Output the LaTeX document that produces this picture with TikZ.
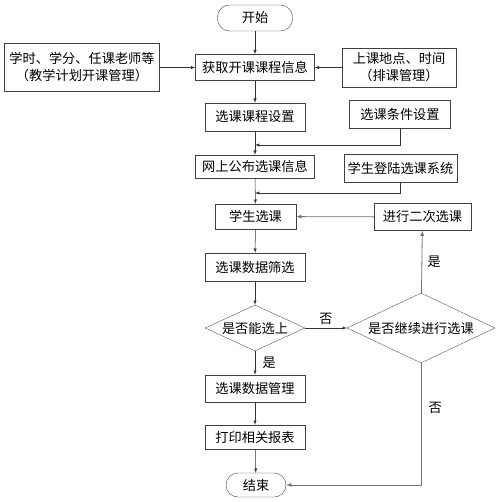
\documentclass[tikz,border=0pt]{standalone}
\usepackage{fontspec}
\setmainfont{Noto Sans CJK SC}
\usetikzlibrary{shapes.geometric}

\begin{document}
\begin{tikzpicture}[x=1pt,y=-1pt,font=\fontsize{13.2pt}{17pt}\selectfont,
    box/.style={draw=black!75,inner sep=0pt,align=center},
    term/.style={box,rounded corners=12pt},
    ask/.style={draw=black!65,diamond,inner sep=0pt,aspect=2.1},
    move/.style={->,>=latex,draw=black!80,line width=0.5pt},
    back/.style={->,>=latex,draw=black!55,line width=0.8pt}]

    \fill[white] (0,0) rectangle (500,502);
    \useasboundingbox (0,0) rectangle (500,502);

    \node[term,minimum width=75,minimum height=26] (start) at (255,18) {开始};
    \node[box,minimum width=119,minimum height=26] (getinfo) at (255,67.5) {获取开课课程信息};
    \node[box,minimum width=155,minimum height=48] (plan) at (82,67.5) {学时、学分、任课老师等\\（教学计划开课管理）};
    \node[box,minimum width=114,minimum height=39] (room) at (399,67.5) {上课地点、时间\\（排课管理）};
    \node[box,minimum width=100,minimum height=28] (setup) at (255,117) {选课课程设置};
    \node[box,minimum width=101,minimum height=28] (cond) at (400,114) {选课条件设置};
    \node[box,minimum width=119,minimum height=23] (publish) at (255,166.5) {网上公布选课信息};
    \node[box,minimum width=113,minimum height=28] (login) at (400.5,168) {学生登陆选课系统};
    \node[box,minimum width=81,minimum height=25] (choose) at (255.5,216.5) {学生选课};
    \node[box,minimum width=97,minimum height=27] (again) at (422.5,217) {进行二次选课};
    \node[box,minimum width=100,minimum height=28] (filter) at (255,267) {选课数据筛选};
    \node[ask,minimum width=100,minimum height=46] (canq) at (255,328) {是否能选上};
    \node[ask,minimum width=148,minimum height=70] (contq) at (421,328) {是否继续进行选课};
    \node[box,minimum width=100,minimum height=27] (manage) at (255,388.5) {选课数据管理};
    \node[box,minimum width=100,minimum height=24] (print) at (255,437) {打印相关报表};
    \node[term,minimum width=60,minimum height=24] (end) at (256,485) {结束};

    \coordinate (j1) at (255,145);
    \coordinate (j2) at (255,193);

    \path[move] (start) -- (getinfo);
    \path[move] (plan) -- (getinfo);
    \path[move] (room) -- (getinfo);
    \path[move] (getinfo) -- (setup);
    \path[move] (setup) -- (publish);
    \path[move] (cond.south) -- (cond.south |- j1) -- (j1);
    \path[move] (publish) -- (choose);
    \path[move] (login.south) -- (login.south |- j2) -- (j2);
    \path[move] (choose) -- (filter);
    \path[move] (filter) -- (canq);
    \path[move] (canq) -- node[above] {否} (contq);
    \path[move] (canq) -- node[right,xshift=4pt] {是} (manage);
    \path[move] (manage) -- (print);
    \path[move] (print) -- (end);
    \path[back] (contq) -- node[right,xshift=2pt] {是} (again);
    \path[back] (again) -- (choose);
    \path[back] (contq.south) -- node[pos=0.37,right,xshift=4pt] {否} (contq.south |- end) -- (end);
\end{tikzpicture}
\end{document}
